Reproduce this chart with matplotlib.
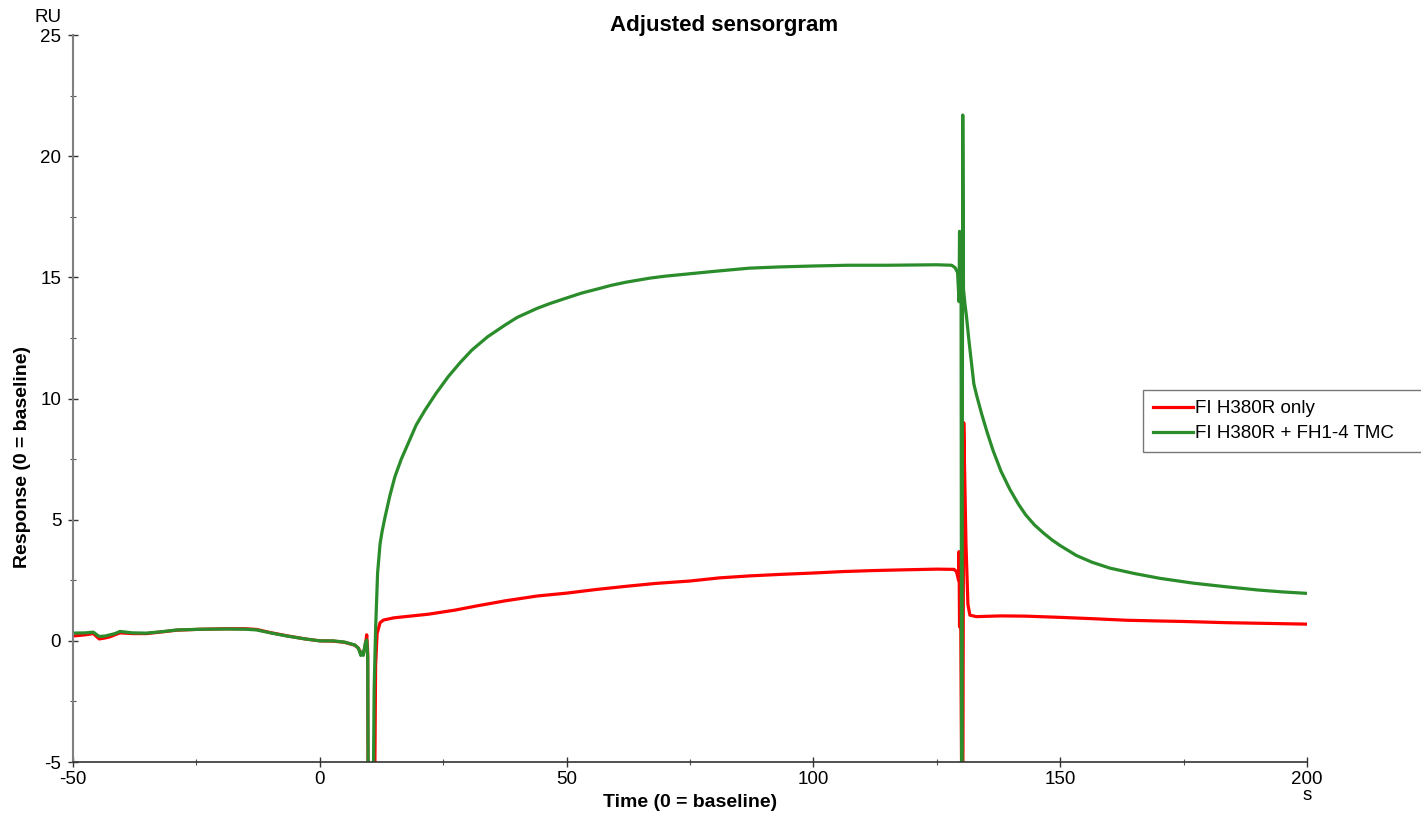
import matplotlib
matplotlib.use("Agg")
import matplotlib.pyplot as plt
from matplotlib.ticker import MultipleLocator

plt.rcParams['font.family'] = ['Liberation Sans', 'DejaVu Sans']
plt.rcParams['axes.unicode_minus'] = False

# sensorgram traces (time in s, response in RU)
t_only = [-50, -47.5, -45.9, -44.7, -43.5, -42.5, -40.5, -38, -35.1, -32, -29, -24, -18.9, -15,
          -12.8, -10, -6.7, -3, 0, 2.7, 5, 7.1, 7.8, 8.3, 8.8, 9.2, 9.5, 9.7, 9.85, 10.9, 11.3,
          11.6, 12.2, 12.9, 15, 17.3, 22, 27.4, 32, 37.5, 44, 50, 56, 62, 68, 75, 81, 87, 93,
          100, 106, 112, 118, 125, 128.5, 129.0, 129.4, 129.5, 129.6, 129.8, 130.2, 130.45,
          130.9, 131.3, 131.7, 133, 138, 143, 150, 156, 163.5, 170, 175, 183.7, 192, 200]
ru_only = [0.2, 0.25, 0.3, 0.08, 0.12, 0.17, 0.33, 0.3, 0.3, 0.37, 0.44, 0.48, 0.5, 0.5,
           0.47, 0.34, 0.21, 0.08, 0.0, -0.01, -0.06, -0.18, -0.3, -0.5, -0.55, -0.2, 0.25, -0.5,
           -12, -12, -1.0, 0.3, 0.75, 0.86, 0.95, 1.0, 1.1, 1.27, 1.45, 1.65, 1.85, 1.97, 2.12,
           2.25, 2.37, 2.47, 2.6, 2.68, 2.74, 2.8, 2.86, 2.9, 2.93, 2.96, 2.95, 2.85, 2.5, 3.68,
           0.58, 2.5, -12, 9.0, 4.0, 1.5, 1.06, 1.0, 1.03, 1.02, 0.97, 0.92, 0.85, 0.82, 0.8,
           0.75, 0.72, 0.69]

t_tmc = [-50, -47.5, -45.9, -44.7, -43.5, -42.5, -41.5, -40.5, -38, -35.1, -32, -29, -24, -18.9,
         -15, -12.8, -10, -6.7, -3, 0, 2.7, 5, 7.1, 7.8, 8.3, 8.6, 8.8, 9.2, 9.5, 9.7, 9.9, 10.6,
         11.0, 11.3, 11.7, 12.2, 12.6, 13.2, 14.2, 15.2, 16.5, 17.9, 19.5, 21.3, 23.5, 26.0,
         28.5, 30.8, 34, 37.5, 40, 44, 46.6, 50, 53, 56.8, 59, 62, 66.9, 70, 75, 80, 87, 93,
         100, 107, 115, 125, 128, 128.7, 129.2, 129.5, 129.6, 129.75, 129.9, 130.05, 130.25,
         130.4, 130.7, 131.0, 131.5, 132.0, 132.5, 133.1, 134.1, 135.2, 136.4, 138, 139.8,
         141.5, 143, 144.8, 146.6, 148.3, 150, 153.3, 156.5, 160.1, 165, 170.2, 177, 183.7, 190,
         195, 200]
ru_tmc = [0.32, 0.33, 0.36, 0.18, 0.2, 0.25, 0.3, 0.39, 0.33, 0.32, 0.38, 0.45, 0.48, 0.49,
          0.48, 0.45, 0.33, 0.2, 0.08, 0.0, 0.0, -0.05, -0.17, -0.3, -0.6, -0.45, -0.6, -0.1,
          0.04, -0.7, -12, -12, -2.0, 0.5, 2.8, 4.0, 4.5, 5.1, 6.0, 6.77, 7.5, 8.15, 8.9, 9.52,
          10.2, 10.9, 11.5, 12.0, 12.55, 13.03, 13.35, 13.72, 13.92, 14.15, 14.35, 14.55, 14.67,
          14.8, 14.97, 15.05, 15.15, 15.25, 15.38, 15.43, 15.47, 15.5, 15.5, 15.52, 15.5, 15.4,
          15.2, 14.0, 16.9, 14.0, 16.6, -12, 21.7, 14.5, 13.9, 13.4, 12.4, 11.5, 10.6, 10.1, 9.35,
          8.6, 7.85, 7.0, 6.25, 5.65, 5.2, 4.78, 4.45, 4.17, 3.93, 3.52, 3.24, 3.0, 2.78, 2.58,
          2.38, 2.23, 2.1, 2.02, 1.96]

labels = ['FI H380R only', 'FI H380R + FH1-4 TMC']

fig = plt.figure(figsize=(14.21, 8.15), dpi=100)
ax = fig.add_axes([0.0514, 0.065, 0.8684, 0.892])

ax.plot(t_only, ru_only, color='#ff0000', lw=2.3, label=labels[0])
ax.plot(t_tmc, ru_tmc, color='#2a8c2a', lw=2.3, label=labels[1])

ax.set_xlim(-50, 200)
ax.set_ylim(-5, 25)
ax.xaxis.set_major_locator(MultipleLocator(50))
ax.xaxis.set_minor_locator(MultipleLocator(25))
ax.yaxis.set_major_locator(MultipleLocator(5))
ax.yaxis.set_minor_locator(MultipleLocator(2.5))
ax.tick_params(which='major', direction='inout', length=7, width=1, labelsize=13.5, color='#333333')
ax.tick_params(which='minor', direction='inout', length=4, width=0.8, color='#555555')
ax.tick_params(axis='x', pad=3)
ax.tick_params(axis='y', pad=5)

for side in ('top', 'right'):
    ax.spines[side].set_visible(False)
ax.spines['left'].set_color('#808080')
ax.spines['left'].set_linewidth(1.5)
ax.spines['bottom'].set_color('#333333')
ax.spines['bottom'].set_linewidth(1.2)

ax.set_xlabel('Time (0 = baseline)', fontsize=14, fontweight='bold')
ax.set_ylabel('Response (0 = baseline)', fontsize=14, fontweight='bold')
ax.xaxis.set_label_coords(0.5, -0.044)
ax.yaxis.set_label_coords(-0.034, 0.42)

fig.text(724 / 1421, 1 - 25 / 815, 'Adjusted sensorgram', ha='center', va='center',
         fontsize=16, fontweight='bold')
fig.text(62 / 1421, 1 - 18 / 815, 'RU', ha='right', va='center', fontsize=13.5)
fig.text(1307 / 1421, 1 - 796 / 815, 's', ha='center', va='center', fontsize=13.5)

# legend box runs past the right edge of the figure
leg = ax.legend(loc='upper left', mode='expand',
                bbox_to_anchor=(1143 / 1421, 1 - 453 / 815, 300 / 1421, 63 / 815),
                bbox_transform=fig.transFigure, fontsize=13.5, frameon=True, fancybox=False,
                handlelength=2.1, handletextpad=0.1, borderpad=0.55, labelspacing=0.4,
                borderaxespad=0)
leg.get_frame().set_edgecolor('#555555')
leg.get_frame().set_linewidth(1)

fig.savefig('out.png', dpi=100)
